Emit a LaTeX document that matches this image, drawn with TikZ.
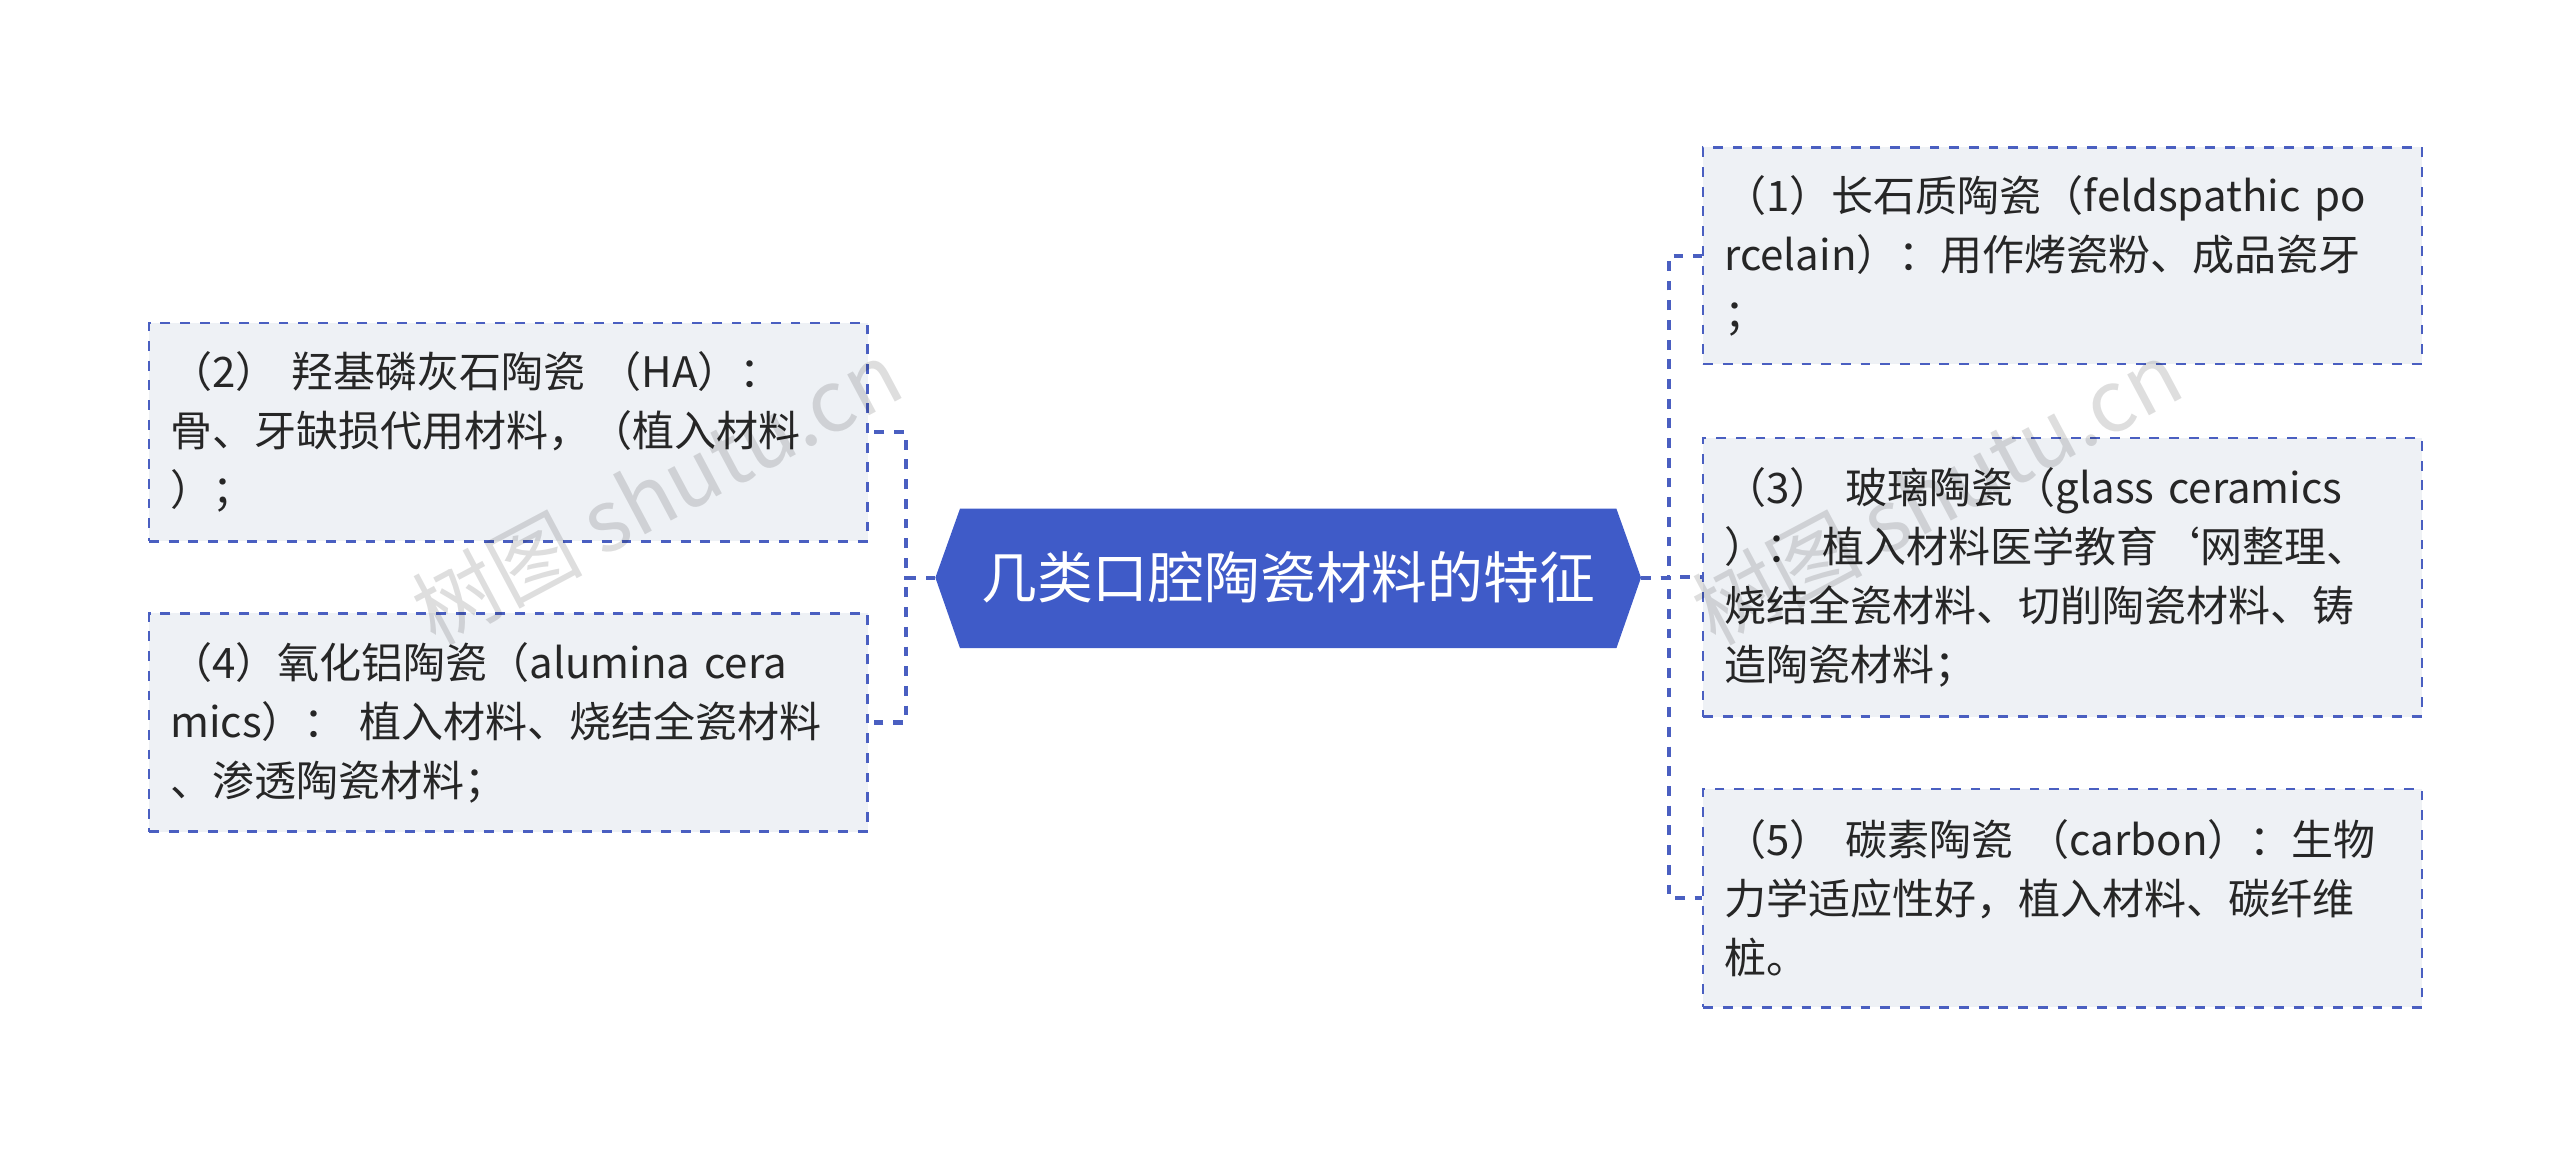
\documentclass[tikz,border=0pt]{standalone}
\usepackage{fontspec}
\setmainfont{Noto Sans CJK SC}
\definecolor{cblue}{HTML}{3F5BC8}
\definecolor{lblue}{HTML}{4A5FC1}
\definecolor{boxfill}{HTML}{EEF1F5}
\newcommand\myleaffont{\fontsize{12.8}{18}\selectfont\lineskiplimit=-20pt\relax\lineskip=0pt\relax}
\tikzset{
 leaf/.style={draw=lblue,dashed,line width=0.8pt,fill=boxfill,align=left,anchor=north west,
   text width=206pt,inner xsep=6.5pt,inner ysep=0pt,
   font=\myleaffont,text=black!85},
 conn/.style={draw=lblue,dashed,line width=1.3pt},
 wm/.style={text=black,opacity=0.13,font=\fontsize{26}{26}\selectfont,rotate=28}
}
\begin{document}
\begin{tikzpicture}[x=0.5pt,y=-0.5pt]
\useasboundingbox (0,0) rectangle (1560,700);
\fill[cblue] (570,352)--(585,310)--(985,310)--(1000,352)--(985,395)--(585,395)--cycle;
\node (c) at (785,352) [text=white,font=\fontsize{17}{18}\selectfont] {几类口腔陶瓷材料的特征};
\coordinate (cl) at (570,352); \coordinate (cr) at (1000,352);
\node (l1) [leaf,minimum height=66.5pt] at (90,196) {（2） 羟基磷灰石陶瓷 （HA）：\\骨、牙缺损代用材料，（植入材料\\）；};
\node (l2) [leaf,minimum height=66.5pt] at (90,373) {（4）氧化铝陶瓷（alumina cera\\mics）： 植入材料、烧结全瓷材料\\、渗透陶瓷材料；};
\node (r1) [leaf,minimum height=66pt] at (1037,89) {（1）长石质陶瓷（feldspathic po\\rcelain）：用作烤瓷粉、成品瓷牙\\；};
\node (r2) [leaf,minimum height=85pt] at (1037,266) {（3） 玻璃陶瓷（glass ceramics\\）： 植入材料医学教育`网整理、\\烧结全瓷材料、切削陶瓷材料、铸\\造陶瓷材料；};
\node (r3) [leaf,minimum height=66.5pt] at (1037,480) {（5） 碳素陶瓷 （carbon）：生物\\力学适应性好，植入材料、碳纤维\\桩。};
\draw[conn] (cl) -- ++(-18,0) |- (l1.east);
\draw[conn] (cl) -- ++(-18,0) |- (l2.east);
\draw[conn] (cr) -- ++(17,0) |- (r1.west);
\draw[conn] (cr) -- ++(17,0) |- (r2.west);
\draw[conn] (cr) -- ++(17,0) |- (r3.west);
\node[wm] (w1) at (400,300) {树图 shutu.cn};
\node[wm] (w2) at (1180,300) {树图 shutu.cn};
\end{tikzpicture}
\end{document}
